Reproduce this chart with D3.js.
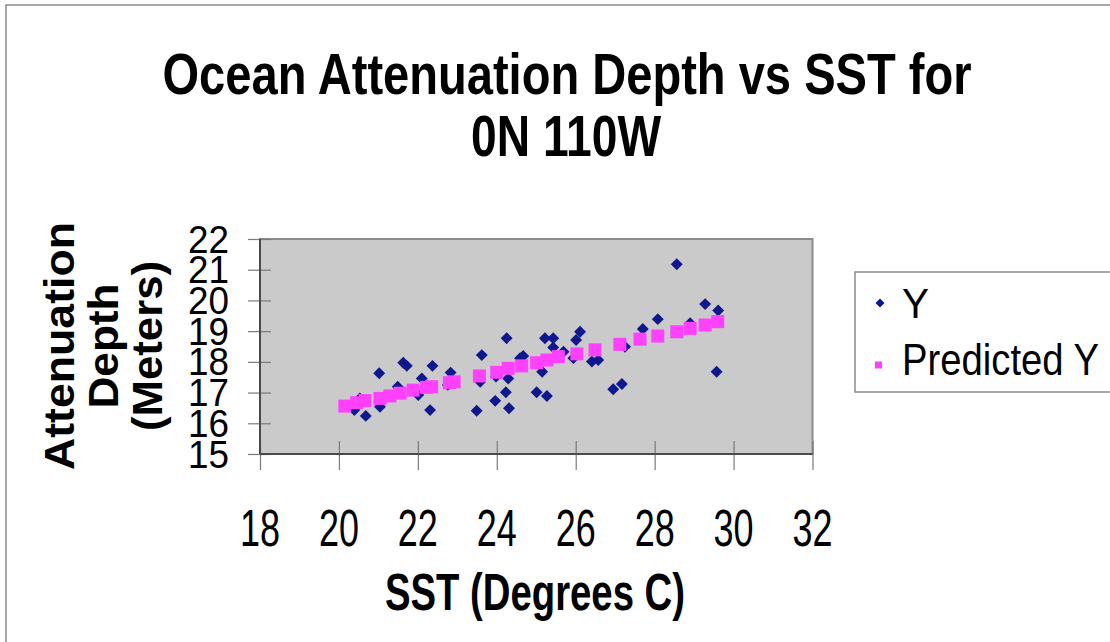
<!DOCTYPE html>
<html>
<head>
<meta charset="utf-8">
<script src="https://cdn.jsdelivr.net/npm/d3@7/dist/d3.min.js"></script>
<style>
  html, body { margin: 0; padding: 0; background: #fff; }
  svg { display: block; font-family: "Liberation Sans", Arial, sans-serif; }
</style>
</head>
<body>
<svg id="chart" width="1110" height="642"></svg>
<script>
// ---------------- DATA ----------------
const titleLines = ["Ocean Attenuation Depth vs SST for", "0N 110W"];
const xAxisTitle = "SST (Degrees C)";
const yAxisTitleLines = ["Attenuation", "Depth", "(Meters)"];
const seriesNames = ["Y", "Predicted Y"];

const xTicks = [18, 20, 22, 24, 26, 28, 30, 32];
const yTicks = [15, 16, 17, 18, 19, 20, 21, 22];

// Observed (SST, depth)
const obsX = [21.02, 21.63, 21.72, 22.37, 22.10, 21.49, 20.53, 20.39, 20.68, 21.04,
              22.01, 22.31, 22.83, 22.76, 23.62, 24.25, 23.58, 23.98, 24.29, 24.59,
              24.67, 24.23, 23.96, 23.49, 24.31, 25.15, 25.01, 25.27, 25.22, 25.43,
              25.43, 25.69, 26.01, 26.11, 25.94, 26.41, 26.57, 26.95, 27.17, 27.25,
              28.56, 29.28, 29.61, 28.08, 27.70, 28.90, 29.57];
const obsY = [17.63, 17.97, 17.87, 17.87, 17.46, 17.19, 16.81, 16.43, 16.24, 16.54,
              16.92, 16.43, 17.65, 17.25, 18.22, 18.77, 17.35, 17.52, 17.46, 18.12,
              18.19, 17.01, 16.73, 16.41, 16.49, 17.68, 17.01, 16.89, 18.77, 18.77,
              18.47, 18.33, 18.71, 18.98, 18.12, 18.01, 18.06, 17.11, 17.28, 18.49,
              21.18, 19.88, 19.67, 19.39, 19.07, 19.26, 17.68];

// Predicted (SST, depth)
const predX = [20.15, 20.45, 20.66, 21.04, 21.29, 21.55, 21.88, 22.22, 22.35, 22.80,
               22.92, 23.56, 24.00, 24.29, 24.63, 25.01, 25.27, 25.56, 26.03, 26.49,
               27.12, 27.63, 28.08, 28.56, 28.90, 29.28, 29.60];
const predY = [16.56, 16.67, 16.74, 16.81, 16.89, 16.98, 17.08, 17.17, 17.19, 17.32,
               17.35, 17.54, 17.66, 17.79, 17.87, 17.97, 18.06, 18.17, 18.26, 18.39,
               18.57, 18.74, 18.84, 18.98, 19.09, 19.20, 19.31];

// ---------------- DRAWING ----------------
const svg = d3.select("#chart");
const NAVY = "#0c1790", PINK = "#ff40ff";

// outer chart border (top & left visible)
svg.append("rect").attr("x", 6).attr("y", 5).attr("width", 1120).attr("height", 660)
  .attr("fill", "#fff").attr("stroke", "#8a8a8a").attr("stroke-width", 1.5);

const x = d3.scaleLinear().domain([18, 32]).range([260, 812.5]);
const y = d3.scaleLinear().domain([15, 22]).range([454, 239]);

// plot area
svg.append("rect")
  .attr("x", x(18)).attr("y", y(22))
  .attr("width", x(32) - x(18)).attr("height", y(15) - y(22))
  .attr("fill", "#cacaca").attr("stroke", "#8c8c8c").attr("stroke-width", 2);

// text helper: font size (vertical) + forced width
function sizedText(g, str, opts) {
  const t = g.append("text")
    .attr("x", opts.x).attr("y", opts.y)
    .attr("font-size", opts.size)
    .attr("font-weight", opts.bold ? "bold" : "normal")
    .attr("fill", "#000")
    .attr("text-anchor", opts.anchor || "start")
    .text(str);
  if (opts.width) t.attr("textLength", opts.width).attr("lengthAdjust", "spacingAndGlyphs");
  if (opts.transform) t.attr("transform", opts.transform);
  return t;
}

// x axis ticks (crossing)
const xAxis = svg.append("g").attr("transform", `translate(0,${y(15)})`)
  .call(d3.axisBottom(x).tickValues(xTicks).tickSize(16).tickFormat(""));
xAxis.select(".domain").remove();
xAxis.selectAll(".tick line").attr("y1", -13).attr("stroke", "#7a7a7a").attr("stroke-width", 1.2);

// y axis ticks (crossing)
const yAxis = svg.append("g").attr("transform", `translate(${x(18)},0)`)
  .call(d3.axisLeft(y).tickValues(yTicks).tickSize(12).tickFormat(""));
yAxis.select(".domain").remove();
yAxis.selectAll(".tick line").attr("x1", 11).attr("stroke", "#7a7a7a").attr("stroke-width", 1.2);

// axis lines
svg.append("line").attr("x1", x(18)).attr("x2", x(32)).attr("y1", y(15)).attr("y2", y(15))
  .attr("stroke", "#4a4a4a").attr("stroke-width", 2);
svg.append("line").attr("x1", x(18)).attr("x2", x(18)).attr("y1", y(22)).attr("y2", y(15))
  .attr("stroke", "#4a4a4a").attr("stroke-width", 2);

// x tick labels
const xl = svg.append("g");
xTicks.forEach(v => sizedText(xl, String(v), { x: x(v), y: 546, size: 52, width: 40, anchor: "middle" }));

// y tick labels
const yl = svg.append("g");
yTicks.forEach(v => sizedText(yl, String(v), { x: 229, y: y(v) + 13.5, size: 38, width: 41, anchor: "end" }));

// observed diamonds
const s = 8.4;
svg.append("g").selectAll("rect").data(obsX.map((v, i) => [v, obsY[i]])).join("rect")
  .attr("x", -s / 2).attr("y", -s / 2).attr("width", s).attr("height", s)
  .attr("fill", NAVY)
  .attr("transform", d => `translate(${x(d[0])},${y(d[1])}) rotate(45)`);

// predicted squares
const p = 13;
svg.append("g").selectAll("rect").data(predX.map((v, i) => [v, predY[i]])).join("rect")
  .attr("x", d => x(d[0]) - p / 2).attr("y", d => y(d[1]) - p / 2)
  .attr("width", p).attr("height", p).attr("fill", PINK);

// title
const tg = svg.append("g");
sizedText(tg, titleLines[0], { x: 567, y: 94, size: 57, width: 809, anchor: "middle", bold: true });
sizedText(tg, titleLines[1], { x: 566, y: 156, size: 57, width: 190, anchor: "middle", bold: true });

// x axis title
sizedText(svg, xAxisTitle, { x: 535, y: 610, size: 52, width: 300, anchor: "middle", bold: true });

// y axis title (rotated)
const yt = svg.append("g");
const yLens = [248, 125, 170];
const yBase = [74, 118, 162];
yAxisTitleLines.forEach((str, i) => {
  sizedText(yt, str, { x: 0, y: 0, size: 42, width: yLens[i], anchor: "middle", bold: true,
    transform: `translate(${yBase[i]},346) rotate(-90)` });
});

// legend
const lg = svg.append("g");
lg.append("rect").attr("x", 855).attr("y", 272).attr("width", 300).attr("height", 120)
  .attr("fill", "#fff").attr("stroke", "#8a8a8a").attr("stroke-width", 1.5);
lg.append("rect").attr("x", -3.2).attr("y", -3.2).attr("width", 6.4).attr("height", 6.4)
  .attr("fill", NAVY).attr("transform", "translate(880,303) rotate(45)");
lg.append("rect").attr("x", 875).attr("y", 361.5).attr("width", 7).attr("height", 7).attr("fill", PINK);
sizedText(lg, seriesNames[0], { x: 902, y: 318, size: 42, width: 27 });
sizedText(lg, seriesNames[1], { x: 902, y: 375, size: 45, width: 197 });
</script>
</body>
</html>
